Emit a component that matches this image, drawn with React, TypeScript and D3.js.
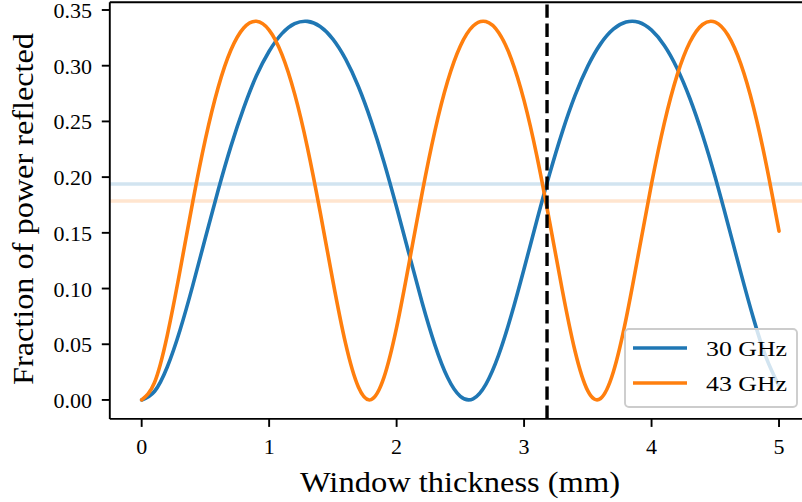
import React from "react";
import * as d3 from "d3";

// Window thickness samples (mm)
const thickness = [
  0.0, 0.1, 0.2, 0.3, 0.4, 0.5, 0.6, 0.7, 0.8, 0.9,
  1.0, 1.1, 1.2, 1.3, 1.4, 1.5, 1.6, 1.7, 1.8, 1.9,
  2.0, 2.1, 2.2, 2.3, 2.4, 2.5, 2.6, 2.7, 2.8, 2.9,
  3.0, 3.1, 3.2, 3.3, 3.4, 3.5, 3.6, 3.7, 3.8, 3.9,
  4.0, 4.1, 4.2, 4.3, 4.4, 4.5, 4.6, 4.7, 4.8, 4.9, 5.0,
];

// Fraction of power reflected, 30 GHz
const reflected30 = [
  0.0, 0.0076, 0.0294, 0.0624, 0.1024, 0.1456, 0.1882, 0.2276, 0.2619, 0.2909,
  0.313, 0.3288, 0.3377, 0.3398, 0.3352, 0.3239, 0.3059, 0.2813, 0.2503, 0.2139,
  0.173, 0.13, 0.0875, 0.0495, 0.0201, 0.0032, 0.001, 0.014, 0.0402, 0.0762,
  0.1178, 0.161, 0.2027, 0.2406, 0.2733, 0.2996, 0.3196, 0.3328, 0.3392, 0.339,
  0.3319, 0.3182, 0.2978, 0.2708, 0.2378, 0.1996, 0.1575, 0.1143, 0.073, 0.0377, 0.0124,
];

// Fraction of power reflected, 43 GHz
const reflected43 = [
  0.0, 0.0155, 0.0576, 0.1155, 0.1774, 0.2341, 0.2805, 0.3141, 0.3339, 0.3399,
  0.332, 0.3102, 0.2747, 0.2268, 0.1688, 0.1069, 0.0505, 0.0116, 0.0003, 0.02,
  0.0651, 0.1242, 0.1857, 0.2413, 0.286, 0.3177, 0.3356, 0.3396, 0.3298, 0.306,
  0.2687, 0.2191, 0.1601, 0.0985, 0.0437, 0.0081, 0.0013, 0.0251, 0.0728, 0.1329,
  0.1941, 0.2484, 0.2913, 0.321, 0.337, 0.3391, 0.3273, 0.3016, 0.2625, 0.2113, 0.1515,
];

const seriesNames = ["30 GHz", "43 GHz"];
const seriesColors = ["#1f77b4", "#ff7f0e"];
const referenceLevels = [0.1938, 0.1786];
const markedThickness = 3.18;

const xTicks = [0, 1, 2, 3, 4, 5];
const yTicks = [0, 0.05, 0.1, 0.15, 0.2, 0.25, 0.3, 0.35];

const xLabel = "Window thickness (mm)";
const yLabel = "Fraction of power reflected";

const FONT = '"Liberation Serif", "DejaVu Serif", "Times New Roman", serif';

export default function App() {
  const W = 802;
  const H = 502;
  const left = 109.8;
  const right = 810.9;
  const top = 2.2;
  const bottom = 418.9;

  const x = d3.scaleLinear().domain([-0.25, 5.25]).range([left, right]);
  const y = d3.scaleLinear().domain([-0.017, 0.357]).range([bottom, top]);

  const line = d3
    .line<[number, number]>()
    .x((d) => x(d[0]))
    .y((d) => y(d[1]))
    .curve(d3.curveNatural);

  const series = [reflected30, reflected43].map((vals) =>
    thickness.map((t, i) => [t, vals[i]] as [number, number])
  );

  const legendX0 = 625;
  const legendY0 = 329;
  const textStyle = { fontFamily: FONT };
  const tickFont = 22;

  return (
    <svg
      width={W}
      height={H}
      style={{ position: "absolute", left: 0, top: 0, background: "#fff", fontFamily: FONT }}
    >
      <defs>
        <clipPath id="plotClip">
          <rect x={left} y={top} width={right - left} height={bottom - top} />
        </clipPath>
      </defs>
      <rect x={0} y={0} width={W} height={H} fill="#fff" />

      <g clipPath="url(#plotClip)">
        {referenceLevels.map((v, i) => (
          <line
            key={"h" + i}
            x1={left}
            x2={right}
            y1={y(v)}
            y2={y(v)}
            stroke={seriesColors[i]}
            strokeOpacity={0.2}
            strokeWidth={3.6}
          />
        ))}
        {series.map((s, i) => (
          <path
            key={"s" + i}
            d={line(s) || ""}
            fill="none"
            stroke={seriesColors[i]}
            strokeWidth={3.6}
            strokeLinecap="round"
            strokeLinejoin="round"
          />
        ))}
        <line
          x1={x(markedThickness)}
          x2={x(markedThickness)}
          y1={bottom}
          y2={top}
          stroke="#000"
          strokeWidth={3.4}
          strokeDasharray="13.3 5.8"
        />
      </g>

      {/* spines */}
      <line x1={left} x2={left} y1={top} y2={bottom} stroke="#000" strokeWidth={1.9} />
      <line x1={left} x2={right} y1={bottom} y2={bottom} stroke="#000" strokeWidth={1.9} />
      <line x1={left} x2={right} y1={top} y2={top} stroke="#000" strokeWidth={1.9} />
      <line x1={right} x2={right} y1={top} y2={bottom} stroke="#000" strokeWidth={1.9} />

      {/* x ticks */}
      {xTicks.map((t) => (
        <g key={"xt" + t}>
          <line x1={x(t)} x2={x(t)} y1={bottom} y2={bottom + 8} stroke="#000" strokeWidth={1.9} />
          <text x={x(t)} y={454} textAnchor="middle" fontSize={tickFont} fill="#000" style={textStyle}>
            {String(t)}
          </text>
        </g>
      ))}

      {/* y ticks */}
      {yTicks.map((t) => (
        <g key={"yt" + t}>
          <line x1={left - 8} x2={left} y1={y(t)} y2={y(t)} stroke="#000" strokeWidth={1.9} />
          <text x={92} y={y(t) + 8} textAnchor="end" fontSize={tickFont} fill="#000" style={textStyle}>
            {d3.format(".2f")(t)}
          </text>
        </g>
      ))}

      {/* axis labels */}
      <text
        x={460}
        y={492}
        textAnchor="middle"
        fontSize={29}
        fill="#000"
        textLength={320}
        lengthAdjust="spacingAndGlyphs"
        style={textStyle}
      >
        {xLabel}
      </text>
      <text
        transform="translate(33,209) rotate(-90)"
        textAnchor="middle"
        fontSize={29}
        fill="#000"
        textLength={352}
        lengthAdjust="spacingAndGlyphs"
        style={textStyle}
      >
        {yLabel}
      </text>

      {/* legend */}
      <rect
        x={legendX0}
        y={legendY0}
        width={797 - legendX0}
        height={407 - legendY0}
        rx={4}
        ry={4}
        fill="#fff"
        fillOpacity={0.8}
        stroke="#cccccc"
        strokeWidth={1.9}
      />
      {seriesNames.map((name, i) => (
        <g key={"lg" + i}>
          <line
            x1={633}
            x2={687}
            y1={348 + i * 35}
            y2={348 + i * 35}
            stroke={seriesColors[i]}
            strokeWidth={3.6}
          />
          <text
            x={706}
            y={356 + i * 35}
            fontSize={tickFont}
            fill="#000"
            style={textStyle}
            textLength={81}
            lengthAdjust="spacingAndGlyphs"
          >
            {name}
          </text>
        </g>
      ))}
    </svg>
  );
}
